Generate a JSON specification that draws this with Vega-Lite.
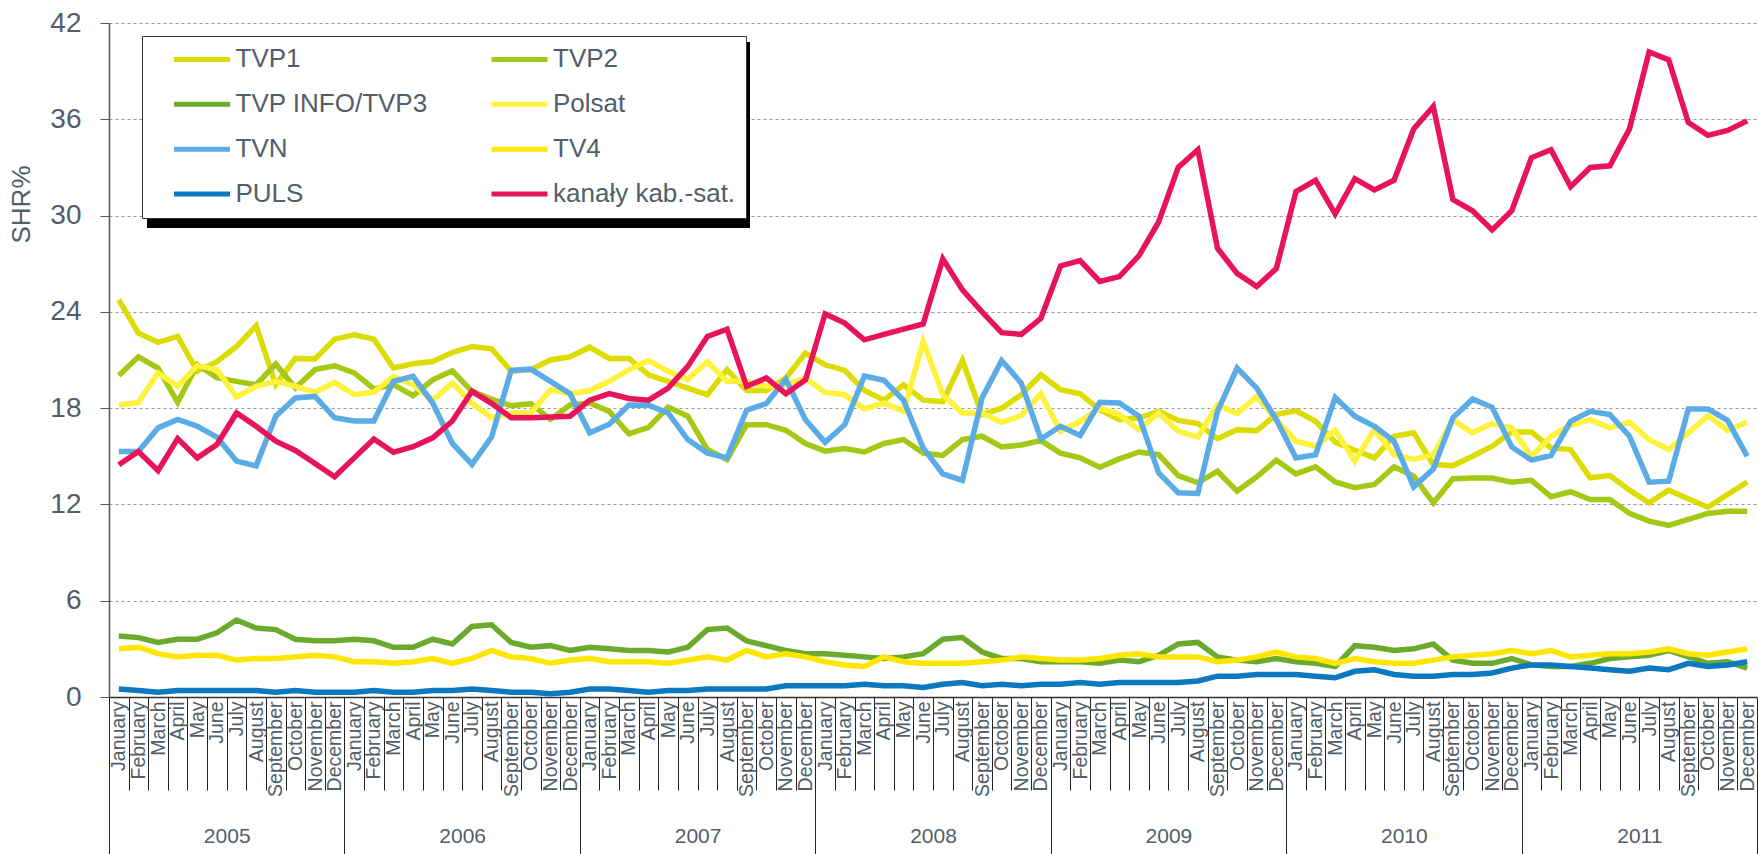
{
  "$schema": "https://vega.github.io/schema/vega-lite/v6.json",
  "width": 1648,
  "height": 674,
  "autosize": {"type": "none"},
  "padding": {"left": 109, "top": 23, "right": 1, "bottom": 157},
  "background": "white",
  "config": {"view": {"stroke": null}, "font": "Liberation Sans"},
  "datasets": {
    "shr": [
      {"m":"2005-01","TVP1":24.75,"TVP2":20.04,"TVP3":3.8,"Polsat":18.2,"TVN":15.3,"TV4":3.0,"PULS":0.5,"kab":14.47},
      {"m":"2005-02","TVP1":22.67,"TVP2":21.2,"TVP3":3.7,"Polsat":18.36,"TVN":15.3,"TV4":3.1,"PULS":0.4,"kab":15.3},
      {"m":"2005-03","TVP1":22.1,"TVP2":20.5,"TVP3":3.4,"Polsat":20.2,"TVN":16.77,"TV4":2.7,"PULS":0.3,"kab":14.1},
      {"m":"2005-04","TVP1":22.47,"TVP2":18.36,"TVP3":3.6,"Polsat":19.36,"TVN":17.3,"TV4":2.5,"PULS":0.4,"kab":16.1},
      {"m":"2005-05","TVP1":20.3,"TVP2":20.7,"TVP3":3.6,"Polsat":20.64,"TVN":16.87,"TV4":2.6,"PULS":0.4,"kab":14.9},
      {"m":"2005-06","TVP1":20.9,"TVP2":19.9,"TVP3":4.0,"Polsat":20.4,"TVN":16.2,"TV4":2.6,"PULS":0.4,"kab":15.73},
      {"m":"2005-07","TVP1":21.84,"TVP2":19.67,"TVP3":4.8,"Polsat":18.7,"TVN":14.7,"TV4":2.3,"PULS":0.4,"kab":17.7},
      {"m":"2005-08","TVP1":23.13,"TVP2":19.46,"TVP3":4.3,"Polsat":19.36,"TVN":14.4,"TV4":2.4,"PULS":0.4,"kab":16.87},
      {"m":"2005-09","TVP1":19.46,"TVP2":20.75,"TVP3":4.2,"Polsat":19.67,"TVN":17.5,"TV4":2.4,"PULS":0.3,"kab":15.94},
      {"m":"2005-10","TVP1":21.1,"TVP2":19.25,"TVP3":3.6,"Polsat":19.36,"TVN":18.63,"TV4":2.5,"PULS":0.4,"kab":15.36},
      {"m":"2005-11","TVP1":21.06,"TVP2":20.4,"TVP3":3.5,"Polsat":19.0,"TVN":18.73,"TV4":2.6,"PULS":0.3,"kab":14.55},
      {"m":"2005-12","TVP1":22.3,"TVP2":20.64,"TVP3":3.5,"Polsat":19.6,"TVN":17.4,"TV4":2.5,"PULS":0.3,"kab":13.72},
      {"m":"2006-01","TVP1":22.57,"TVP2":20.2,"TVP3":3.6,"Polsat":18.84,"TVN":17.2,"TV4":2.2,"PULS":0.3,"kab":14.9},
      {"m":"2006-02","TVP1":22.3,"TVP2":19.2,"TVP3":3.5,"Polsat":19.0,"TVN":17.2,"TV4":2.2,"PULS":0.4,"kab":16.08},
      {"m":"2006-03","TVP1":20.5,"TVP2":19.46,"TVP3":3.1,"Polsat":19.98,"TVN":19.67,"TV4":2.1,"PULS":0.3,"kab":15.25},
      {"m":"2006-04","TVP1":20.77,"TVP2":18.78,"TVP3":3.1,"Polsat":19.46,"TVN":19.98,"TV4":2.2,"PULS":0.3,"kab":15.6},
      {"m":"2006-05","TVP1":20.9,"TVP2":19.77,"TVP3":3.6,"Polsat":18.5,"TVN":18.32,"TV4":2.4,"PULS":0.4,"kab":16.15},
      {"m":"2006-06","TVP1":21.47,"TVP2":20.33,"TVP3":3.3,"Polsat":19.56,"TVN":15.8,"TV4":2.1,"PULS":0.4,"kab":17.2},
      {"m":"2006-07","TVP1":21.84,"TVP2":19.05,"TVP3":4.4,"Polsat":18.3,"TVN":14.49,"TV4":2.4,"PULS":0.5,"kab":19.05},
      {"m":"2006-08","TVP1":21.7,"TVP2":18.57,"TVP3":4.5,"Polsat":17.4,"TVN":16.2,"TV4":2.9,"PULS":0.4,"kab":18.3},
      {"m":"2006-09","TVP1":20.3,"TVP2":18.15,"TVP3":3.4,"Polsat":17.7,"TVN":20.35,"TV4":2.5,"PULS":0.3,"kab":17.4},
      {"m":"2006-10","TVP1":20.4,"TVP2":18.28,"TVP3":3.1,"Polsat":17.7,"TVN":20.43,"TV4":2.4,"PULS":0.3,"kab":17.4},
      {"m":"2006-11","TVP1":21.0,"TVP2":17.3,"TVP3":3.2,"Polsat":19.15,"TVN":19.67,"TV4":2.1,"PULS":0.2,"kab":17.45},
      {"m":"2006-12","TVP1":21.2,"TVP2":18.2,"TVP3":2.9,"Polsat":18.9,"TVN":18.9,"TV4":2.3,"PULS":0.3,"kab":17.5},
      {"m":"2007-01","TVP1":21.8,"TVP2":18.32,"TVP3":3.1,"Polsat":19.1,"TVN":16.46,"TV4":2.4,"PULS":0.5,"kab":18.5},
      {"m":"2007-02","TVP1":21.1,"TVP2":17.8,"TVP3":3.0,"Polsat":19.67,"TVN":17.0,"TV4":2.2,"PULS":0.5,"kab":18.9},
      {"m":"2007-03","TVP1":21.1,"TVP2":16.4,"TVP3":2.9,"Polsat":20.4,"TVN":18.2,"TV4":2.2,"PULS":0.4,"kab":18.6},
      {"m":"2007-04","TVP1":20.08,"TVP2":16.8,"TVP3":2.9,"Polsat":20.97,"TVN":18.18,"TV4":2.2,"PULS":0.3,"kab":18.5},
      {"m":"2007-05","TVP1":19.67,"TVP2":18.07,"TVP3":2.8,"Polsat":20.3,"TVN":17.7,"TV4":2.1,"PULS":0.4,"kab":19.25},
      {"m":"2007-06","TVP1":19.25,"TVP2":17.5,"TVP3":3.1,"Polsat":19.8,"TVN":16.04,"TV4":2.3,"PULS":0.4,"kab":20.6},
      {"m":"2007-07","TVP1":18.84,"TVP2":15.42,"TVP3":4.2,"Polsat":20.9,"TVN":15.2,"TV4":2.5,"PULS":0.5,"kab":22.47},
      {"m":"2007-08","TVP1":20.4,"TVP2":14.8,"TVP3":4.3,"Polsat":19.67,"TVN":14.9,"TV4":2.3,"PULS":0.5,"kab":22.92},
      {"m":"2007-09","TVP1":19.1,"TVP2":16.97,"TVP3":3.5,"Polsat":19.67,"TVN":17.87,"TV4":2.9,"PULS":0.5,"kab":19.36},
      {"m":"2007-10","TVP1":19.1,"TVP2":16.97,"TVP3":3.2,"Polsat":19.36,"TVN":18.28,"TV4":2.5,"PULS":0.5,"kab":19.88},
      {"m":"2007-11","TVP1":19.88,"TVP2":16.62,"TVP3":2.9,"Polsat":19.46,"TVN":19.8,"TV4":2.7,"PULS":0.7,"kab":18.9},
      {"m":"2007-12","TVP1":21.43,"TVP2":15.8,"TVP3":2.7,"Polsat":19.88,"TVN":17.28,"TV4":2.5,"PULS":0.7,"kab":19.77},
      {"m":"2008-01","TVP1":20.7,"TVP2":15.32,"TVP3":2.7,"Polsat":18.98,"TVN":15.87,"TV4":2.2,"PULS":0.7,"kab":23.88},
      {"m":"2008-02","TVP1":20.35,"TVP2":15.48,"TVP3":2.6,"Polsat":18.84,"TVN":16.97,"TV4":2.0,"PULS":0.7,"kab":23.3},
      {"m":"2008-03","TVP1":19.1,"TVP2":15.27,"TVP3":2.5,"Polsat":17.95,"TVN":20.0,"TV4":1.9,"PULS":0.8,"kab":22.26},
      {"m":"2008-04","TVP1":18.5,"TVP2":15.8,"TVP3":2.4,"Polsat":18.32,"TVN":19.73,"TV4":2.5,"PULS":0.7,"kab":22.6},
      {"m":"2008-05","TVP1":19.46,"TVP2":16.04,"TVP3":2.5,"Polsat":17.8,"TVN":18.49,"TV4":2.2,"PULS":0.7,"kab":22.92},
      {"m":"2008-06","TVP1":18.5,"TVP2":15.2,"TVP3":2.7,"Polsat":22.16,"TVN":15.52,"TV4":2.1,"PULS":0.6,"kab":23.25},
      {"m":"2008-07","TVP1":18.4,"TVP2":15.05,"TVP3":3.6,"Polsat":18.84,"TVN":13.9,"TV4":2.1,"PULS":0.8,"kab":27.3},
      {"m":"2008-08","TVP1":20.97,"TVP2":16.04,"TVP3":3.7,"Polsat":17.7,"TVN":13.5,"TV4":2.1,"PULS":0.9,"kab":25.37},
      {"m":"2008-09","TVP1":17.6,"TVP2":16.25,"TVP3":2.8,"Polsat":17.7,"TVN":18.63,"TV4":2.2,"PULS":0.7,"kab":24.0},
      {"m":"2008-10","TVP1":18.0,"TVP2":15.58,"TVP3":2.4,"Polsat":17.12,"TVN":20.97,"TV4":2.3,"PULS":0.8,"kab":22.7},
      {"m":"2008-11","TVP1":18.84,"TVP2":15.7,"TVP3":2.4,"Polsat":17.53,"TVN":19.56,"TV4":2.5,"PULS":0.7,"kab":22.6},
      {"m":"2008-12","TVP1":20.08,"TVP2":15.98,"TVP3":2.2,"Polsat":18.9,"TVN":16.08,"TV4":2.4,"PULS":0.8,"kab":23.6},
      {"m":"2009-01","TVP1":19.15,"TVP2":15.2,"TVP3":2.2,"Polsat":16.56,"TVN":16.87,"TV4":2.3,"PULS":0.8,"kab":26.86},
      {"m":"2009-02","TVP1":18.9,"TVP2":14.9,"TVP3":2.2,"Polsat":17.18,"TVN":16.3,"TV4":2.3,"PULS":0.9,"kab":27.2},
      {"m":"2009-03","TVP1":17.9,"TVP2":14.32,"TVP3":2.1,"Polsat":18.0,"TVN":18.36,"TV4":2.4,"PULS":0.8,"kab":25.9},
      {"m":"2009-04","TVP1":17.28,"TVP2":14.84,"TVP3":2.3,"Polsat":17.6,"TVN":18.32,"TV4":2.6,"PULS":0.9,"kab":26.2},
      {"m":"2009-05","TVP1":17.4,"TVP2":15.27,"TVP3":2.2,"Polsat":16.66,"TVN":17.5,"TV4":2.7,"PULS":0.9,"kab":27.5},
      {"m":"2009-06","TVP1":17.8,"TVP2":15.1,"TVP3":2.6,"Polsat":17.7,"TVN":13.97,"TV4":2.5,"PULS":0.9,"kab":29.6},
      {"m":"2009-07","TVP1":17.24,"TVP2":13.8,"TVP3":3.3,"Polsat":16.56,"TVN":12.73,"TV4":2.5,"PULS":0.9,"kab":33.0},
      {"m":"2009-08","TVP1":17.04,"TVP2":13.35,"TVP3":3.4,"Polsat":16.2,"TVN":12.68,"TV4":2.5,"PULS":1.0,"kab":34.1},
      {"m":"2009-09","TVP1":16.1,"TVP2":14.07,"TVP3":2.5,"Polsat":18.2,"TVN":17.8,"TV4":2.2,"PULS":1.3,"kab":27.96},
      {"m":"2009-10","TVP1":16.66,"TVP2":12.83,"TVP3":2.3,"Polsat":17.66,"TVN":20.5,"TV4":2.3,"PULS":1.3,"kab":26.4},
      {"m":"2009-11","TVP1":16.6,"TVP2":13.72,"TVP3":2.2,"Polsat":18.73,"TVN":19.25,"TV4":2.5,"PULS":1.4,"kab":25.58},
      {"m":"2009-12","TVP1":17.6,"TVP2":14.76,"TVP3":2.4,"Polsat":17.28,"TVN":17.28,"TV4":2.8,"PULS":1.4,"kab":26.7},
      {"m":"2010-01","TVP1":17.84,"TVP2":13.9,"TVP3":2.2,"Polsat":15.94,"TVN":14.9,"TV4":2.5,"PULS":1.4,"kab":31.5},
      {"m":"2010-02","TVP1":17.18,"TVP2":14.34,"TVP3":2.1,"Polsat":15.63,"TVN":15.1,"TV4":2.4,"PULS":1.3,"kab":32.2},
      {"m":"2010-03","TVP1":15.88,"TVP2":13.4,"TVP3":1.9,"Polsat":16.62,"TVN":18.67,"TV4":2.1,"PULS":1.2,"kab":30.1},
      {"m":"2010-04","TVP1":15.38,"TVP2":13.04,"TVP3":3.2,"Polsat":14.7,"TVN":17.5,"TV4":2.4,"PULS":1.6,"kab":32.3},
      {"m":"2010-05","TVP1":14.9,"TVP2":13.24,"TVP3":3.1,"Polsat":16.66,"TVN":16.87,"TV4":2.2,"PULS":1.7,"kab":31.6},
      {"m":"2010-06","TVP1":16.25,"TVP2":14.34,"TVP3":2.9,"Polsat":15.1,"TVN":15.94,"TV4":2.1,"PULS":1.4,"kab":32.2},
      {"m":"2010-07","TVP1":16.46,"TVP2":13.76,"TVP3":3.0,"Polsat":14.8,"TVN":13.1,"TV4":2.1,"PULS":1.3,"kab":35.4},
      {"m":"2010-08","TVP1":14.49,"TVP2":12.1,"TVP3":3.3,"Polsat":15.1,"TVN":14.2,"TV4":2.3,"PULS":1.3,"kab":36.8},
      {"m":"2010-09","TVP1":14.42,"TVP2":13.6,"TVP3":2.3,"Polsat":17.28,"TVN":17.4,"TV4":2.5,"PULS":1.4,"kab":31.0},
      {"m":"2010-10","TVP1":15.0,"TVP2":13.65,"TVP3":2.1,"Polsat":16.46,"TVN":18.57,"TV4":2.6,"PULS":1.4,"kab":30.3},
      {"m":"2010-11","TVP1":15.63,"TVP2":13.65,"TVP3":2.1,"Polsat":17.04,"TVN":18.05,"TV4":2.7,"PULS":1.5,"kab":29.1},
      {"m":"2010-12","TVP1":16.52,"TVP2":13.39,"TVP3":2.4,"Polsat":16.77,"TVN":15.58,"TV4":2.9,"PULS":1.8,"kab":30.3},
      {"m":"2011-01","TVP1":16.52,"TVP2":13.5,"TVP3":2.0,"Polsat":14.96,"TVN":14.76,"TV4":2.7,"PULS":2.0,"kab":33.6},
      {"m":"2011-02","TVP1":15.52,"TVP2":12.48,"TVP3":1.9,"Polsat":16.25,"TVN":15.05,"TV4":2.9,"PULS":2.0,"kab":34.1},
      {"m":"2011-03","TVP1":15.42,"TVP2":12.79,"TVP3":1.9,"Polsat":16.93,"TVN":17.18,"TV4":2.5,"PULS":1.9,"kab":31.8},
      {"m":"2011-04","TVP1":13.66,"TVP2":12.31,"TVP3":2.1,"Polsat":17.28,"TVN":17.8,"TV4":2.6,"PULS":1.8,"kab":33.0},
      {"m":"2011-05","TVP1":13.8,"TVP2":12.31,"TVP3":2.4,"Polsat":16.77,"TVN":17.6,"TV4":2.7,"PULS":1.7,"kab":33.1},
      {"m":"2011-06","TVP1":12.89,"TVP2":11.44,"TVP3":2.5,"Polsat":17.12,"TVN":16.25,"TV4":2.7,"PULS":1.6,"kab":35.4},
      {"m":"2011-07","TVP1":12.1,"TVP2":10.96,"TVP3":2.6,"Polsat":16.04,"TVN":13.39,"TV4":2.8,"PULS":1.8,"kab":40.2},
      {"m":"2011-08","TVP1":12.89,"TVP2":10.69,"TVP3":2.9,"Polsat":15.42,"TVN":13.45,"TV4":3.0,"PULS":1.7,"kab":39.7},
      {"m":"2011-09","TVP1":12.35,"TVP2":11.07,"TVP3":2.5,"Polsat":16.46,"TVN":17.95,"TV4":2.7,"PULS":2.1,"kab":35.8},
      {"m":"2011-10","TVP1":11.83,"TVP2":11.44,"TVP3":2.1,"Polsat":17.53,"TVN":17.95,"TV4":2.6,"PULS":1.9,"kab":35.0},
      {"m":"2011-11","TVP1":12.62,"TVP2":11.58,"TVP3":2.2,"Polsat":16.62,"TVN":17.24,"TV4":2.8,"PULS":2.0,"kab":35.3},
      {"m":"2011-12","TVP1":13.4,"TVP2":11.58,"TVP3":1.8,"Polsat":17.12,"TVN":15.0,"TV4":3.0,"PULS":2.2,"kab":35.9}
    ],
    "years": [
      {"year": "2005", "n": 2005}, {"year": "2006", "n": 2006}, {"year": "2007", "n": 2007}, {"year": "2008", "n": 2008},
      {"year": "2009", "n": 2009}, {"year": "2010", "n": 2010}, {"year": "2011", "n": 2011}
    ]
  },
  "layer": [
    {
      "data": {"name": "shr"},
      "transform": [
        {"fold": ["TVP1", "TVP2", "TVP3", "Polsat", "TVN", "TV4", "PULS", "kab"], "as": ["ch", "v"]}
      ],
      "mark": {"type": "line", "strokeWidth": 5.5},
      "encoding": {
        "x": {
          "field": "m",
          "type": "ordinal",
          "scale": {"type": "band", "paddingInner": 0, "paddingOuter": 0},
          "axis": {
            "title": null,
            "orient": "bottom",
            "labelAngle": 270,
            "labelAlign": "right",
            "labelBaseline": "middle",
            "labelFontSize": 19.5,
            "labelColor": "#525e69",
            "labelPadding": -89,
            "labelOverlap": false,
            "labelExpr": "['January','February','March','April','May','June','July','August','September','October','November','December'][toNumber(substring(datum.value,5,7))-1]",
            "tickBand": "extent",
            "tickSize": 93,
            "tickColor": "#222222",
            "tickWidth": 1,
            "domainColor": "#333333",
            "domainWidth": 1.5,
            "grid": false
          }
        },
        "y": {
          "field": "v",
          "type": "quantitative",
          "scale": {"domain": [0, 42], "nice": false},
          "axis": {
            "values": [0, 6, 12, 18, 24, 30, 36, 42],
            "title": "SHR%",
            "grid": true,
            "gridDash": [3, 3],
            "gridColor": "#999999",
            "gridWidth": 1,
            "tickSize": 9,
            "tickColor": "#555555",
            "domainColor": "#555555",
            "domainWidth": 1.5,
            "labelFontSize": 28,
            "labelColor": "#525e69",
            "labelPadding": 19,
            "titleFontSize": 26,
            "titleFontWeight": "normal",
            "titleColor": "#525e69",
            "titleAngle": 270,
            "titleX": -88,
            "titleY": 181,
            "titleAlign": "center",
            "titleBaseline": "middle"
          }
        },
        "color": {
          "field": "ch",
          "type": "nominal",
          "scale": {
            "domain": ["TVP1", "TVP3", "TVN", "PULS", "TVP2", "Polsat", "TV4", "kab"],
            "range": ["#dcdc00", "#6aab2d", "#5aabe6", "#0b78bf", "#a5c814", "#fff23c", "#ffe600", "#e8145a"]
          },
          "legend": {
            "title": " ",
            "titleOrient": "left",
            "titleFontSize": 1,
            "titlePadding": 21.6,
            "orient": "none",
            "legendX": 33,
            "legendY": 13,
            "zindex": 3,
            "columns": 2,
            "columnPadding": 53.5,
            "rowPadding": 18.9,
            "padding": 10.4,
            "fillColor": "white",
            "strokeColor": "#333333",
            "symbolType": "M-2.8,0L2.8,0",
            "symbolSize": 400,
            "symbolStrokeWidth": 5,
            "symbolOffset": 15,
            "labelFontSize": 26,
            "labelColor": "#525e69",
            "labelOffset": 20.5,
            "labelLimit": 400,
            "labelExpr": "datum.label == 'TVP3' ? 'TVP INFO/TVP3' : datum.label == 'kab' ? 'kanały kab.-sat.' : datum.label"
          }
        },
        "strokeWidth": {
          "condition": {"test": "datum.ch === 'kab'", "value": 7.5},
          "value": 5.5
        }
      }
    },
    {
      "data": {"name": "years"},
      "mark": {"type": "point", "opacity": 0},
      "encoding": {
        "x": {
          "field": "year",
          "type": "ordinal",
          "scale": {"type": "band", "paddingInner": 0, "paddingOuter": 0},
          "axis": {
            "title": null,
            "orient": "bottom",
            "labelAngle": 0,
            "labelFontSize": 21,
            "labelColor": "#525e69",
            "labelBaseline": "top",
            "labelPadding": -29,
            "tickBand": "extent",
            "tickSize": 157,
            "tickColor": "#222222",
            "tickWidth": 1,
            "domain": false,
            "grid": false
          }
        },
        "fill": {
          "field": "n",
          "type": "quantitative",
          "scale": {"range": ["#000000", "#000000"]},
          "legend": {
            "title": null,
            "orient": "none",
            "legendX": 38,
            "legendY": 19,
            "zindex": 2,
            "direction": "horizontal",
            "gradientLength": 603,
            "gradientThickness": 186,
            "gradientStrokeWidth": 0,
            "labelOpacity": 0,
            "labelFontSize": 1,
            "labelOffset": 0,
            "padding": 0,
            "tickCount": 1
          }
        }
      }
    }
  ],
  "resolve": {"scale": {"x": "independent"}, "axis": {"x": "independent"}}
}
